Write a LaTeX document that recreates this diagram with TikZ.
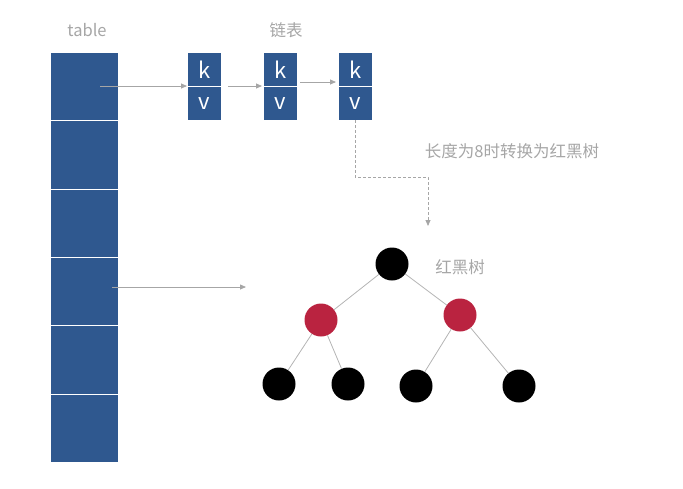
\documentclass[tikz,border=0pt]{standalone}
\usepackage{fontspec}
\setmainfont{Noto Sans CJK SC}
\usetikzlibrary{arrows.meta}
\definecolor{cellblue}{RGB}{47,88,143}
\definecolor{rbred}{RGB}{186,35,64}
\definecolor{txtgray}{RGB}{166,166,166}
\definecolor{lngray}{RGB}{166,166,166}
\definecolor{edgegray}{RGB}{180,180,180}
\tikzset{
  cell/.style={fill=cellblue, draw=white, line width=1pt, minimum width=68pt, minimum height=68.3pt, inner sep=0pt, anchor=north west},
  kvbox/.style={fill=cellblue, draw=white, line width=1pt, minimum width=34pt, minimum height=34pt, inner sep=0pt, text=white, font=\fontsize{22}{22}\selectfont, anchor=north west},
  lbl/.style={text=txtgray, font=\fontsize{16.5}{16.5}\selectfont, inner sep=0pt},
  conn/.style={draw=lngray, line width=0.8pt, -{Triangle[length=6pt,width=5pt]}},
  dconn/.style={draw=lngray, line width=0.8pt, dashed, dash pattern=on 3pt off 2pt, -{Triangle[length=6pt,width=5pt]}},
  blk/.style={circle, fill=black, minimum size=33pt, inner sep=0pt},
  red/.style={circle, fill=rbred, minimum size=33pt, inner sep=0pt},
  tedge/.style={draw=edgegray, line width=0.8pt}
}
\begin{document}
\begin{tikzpicture}[x=1pt,y=-1pt]
\useasboundingbox (0,0) rectangle (683,488);
% table
\foreach \i in {0,...,5} {
  \node[cell] (t\i) at (50,{52+68.3*\i}) {};
}
\node[lbl] (tablelbl) at (87,30) {table};
% linked list
\node[kvbox] (k1) at (187,52) {k};
\node[kvbox] (v1) at (187,86) {v};
\node[kvbox] (k2) at (263,52) {k};
\node[kvbox] (v2) at (263,86) {v};
\node[kvbox] (k3) at (338,52) {k};
\node[kvbox] (v3) at (338,86) {v};
\node[lbl] (listlbl) at (286,30) {链表};
\node[lbl] (convlbl) at (512,151) {长度为8时转换为红黑树};
\node[lbl] (rblbl) at (460,267) {红黑树};
% tree
\node[blk] (root) at (392,264) {};
\node[red] (rl) at (321,320) {};
\node[red] (rr) at (460,315) {};
\node[blk] (l1) at (279,384) {};
\node[blk] (l2) at (348,384) {};
\node[blk] (l3) at (416,386) {};
\node[blk] (l4) at (519,386) {};
\draw[tedge] (root) -- (rl);
\draw[tedge] (root) -- (rr);
\draw[tedge] (rl) -- (l1);
\draw[tedge] (rl) -- (l2);
\draw[tedge] (rr) -- (l3);
\draw[tedge] (rr) -- (l4);
% connectors
\coordinate (s1) at (100,86);
\coordinate (s2) at (228,86);
\coordinate (e2) at (262,86);
\coordinate (s3) at (300,82);
\coordinate (e3) at (336,82);
\coordinate (s4) at (112,287);
\coordinate (e4) at (246,287);
\coordinate (d1) at (355,120);
\coordinate (d2) at (428,226);
\draw[conn] (s1) -- (v1.north west);
\draw[conn] (s2) -- (e2);
\draw[conn] (s3) -- (e3);
\draw[conn] (s4) -- (e4);
\draw[dconn] (d1) -- (355,177) -- (428,177) -- (d2);
\end{tikzpicture}
\end{document}
